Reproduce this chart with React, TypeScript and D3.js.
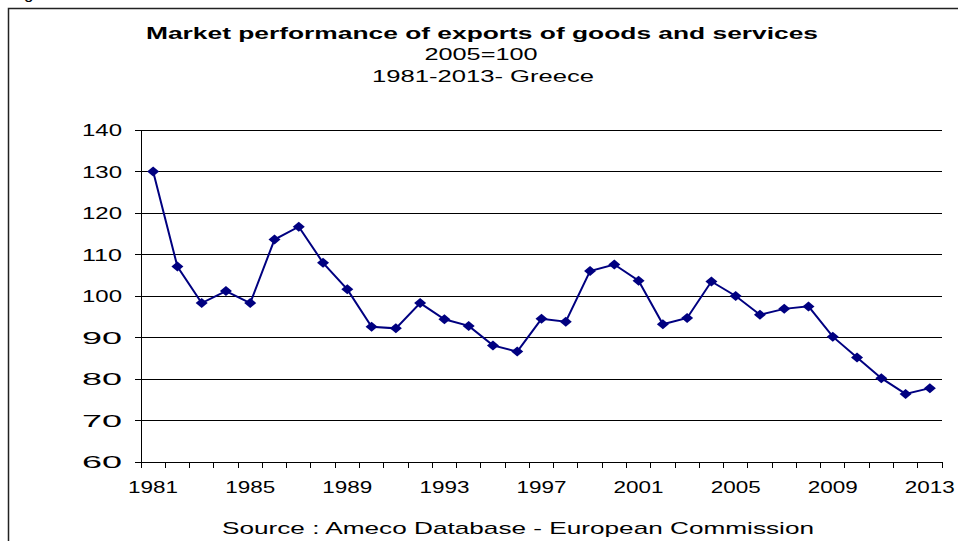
import React from 'react';
import * as d3 from 'd3';

const years = [
  1981, 1982, 1983, 1984, 1985, 1986, 1987, 1988, 1989, 1990, 1991,
  1992, 1993, 1994, 1995, 1996, 1997, 1998, 1999, 2000, 2001, 2002,
  2003, 2004, 2005, 2006, 2007, 2008, 2009, 2010, 2011, 2012, 2013,
];

const performance = [
  130.0, 107.1, 98.3, 101.2, 98.3, 113.6, 116.7, 108.0, 101.6, 92.6, 92.2,
  98.3, 94.4, 92.8, 88.1, 86.6, 94.5, 93.8, 106.0, 107.6, 103.7, 93.2,
  94.7, 103.5, 100.0, 95.5, 96.9, 97.5, 90.2, 85.2, 80.2, 76.4, 77.8,
];

const yTicks = [60, 70, 80, 90, 100, 110, 120, 130, 140];
const xLabels = [1981, 1985, 1989, 1993, 1997, 2001, 2005, 2009, 2013];

const titleLines = ['Market performance of exports of goods and services', '2005=100', '1981-2013- Greece'];
const sourceText = 'Source : Ameco Database - European Commission';

const FONT = '"Liberation Sans", Arial, sans-serif';

export default function App() {
  const width = 958;
  const height = 541;
  const plot = { left: 141, right: 942, top: 130, bottom: 462 };

  const x = d3.scaleBand<number>()
    .domain(years)
    .range([plot.left, plot.right])
    .paddingInner(0)
    .paddingOuter(0);

  const y = d3.scaleLinear()
    .domain([60, 140])
    .range([plot.bottom, plot.top]);

  const cx = (yr: number) => (x(yr) || 0) + x.bandwidth() / 2;

  const line = d3.line<number>()
    .x((_, i) => cx(years[i]))
    .y(d => y(d));

  const boundaries = years.map(yr => x(yr) || 0).concat([plot.right]);

  const diamond = (px: number, py: number) =>
    `M${px},${py - 5}L${px + 6},${py}L${px},${py + 5}L${px - 6},${py}Z`;

  return (
    <svg width={width} height={height} style={{ position: 'absolute', left: 0, top: 0, background: '#fff' }}
      fontFamily={FONT}>
      {/* outer frame */}
      <rect x={8.5} y={8.5} width={960} height={560} fill="none" stroke="#222" strokeWidth={1.5} />
      <text x={24} y={-1} fontSize={17} fill="#000">g</text>

      {/* titles */}
      <text x={482} y={39} textAnchor="middle" fontSize={17} fontWeight="bold" textLength={672} lengthAdjust="spacingAndGlyphs">{titleLines[0]}</text>
      <text x={481} y={60} textAnchor="middle" fontSize={16} textLength={113} lengthAdjust="spacingAndGlyphs">{titleLines[1]}</text>
      <text x={483} y={82} textAnchor="middle" fontSize={16} textLength={222} lengthAdjust="spacingAndGlyphs">{titleLines[2]}</text>

      {/* gridlines */}
      {yTicks.filter(t => t !== 60).map(t => (
        <line key={t} x1={plot.left} x2={plot.right} y1={y(t)} y2={y(t)} stroke="#000" strokeWidth={1} shapeRendering="crispEdges" />
      ))}

      {/* y axis */}
      <line x1={plot.left} x2={plot.left} y1={plot.top} y2={plot.bottom} stroke="#000" strokeWidth={1} shapeRendering="crispEdges" />
      {yTicks.map(t => (
        <g key={t}>
          <line x1={plot.left - 6} x2={plot.left} y1={y(t)} y2={y(t)} stroke="#000" shapeRendering="crispEdges" />
          <text x={122} y={y(t) + 6} textAnchor="end" fontSize={17} textLength={40} lengthAdjust="spacingAndGlyphs">{t}</text>
        </g>
      ))}

      {/* x axis */}
      <line x1={plot.left} x2={plot.right} y1={plot.bottom} y2={plot.bottom} stroke="#000" strokeWidth={1} shapeRendering="crispEdges" />
      {boundaries.map((b, i) => (
        <line key={i} x1={b} x2={b} y1={plot.bottom} y2={plot.bottom + 6} stroke="#000" shapeRendering="crispEdges" />
      ))}
      {xLabels.map(yr => (
        <text key={yr} x={cx(yr)} y={493} textAnchor="middle" fontSize={17} textLength={50} lengthAdjust="spacingAndGlyphs">{yr}</text>
      ))}

      {/* series */}
      <path d={line(performance) || ''} fill="none" stroke="#000080" strokeWidth={2} />
      {performance.map((v, i) => (
        <path key={years[i]} d={diamond(cx(years[i]), y(v))} fill="#000080" />
      ))}

      {/* source */}
      <text x={518} y={534} textAnchor="middle" fontSize={17} textLength={592} lengthAdjust="spacingAndGlyphs">{sourceText}</text>
    </svg>
  );
}
